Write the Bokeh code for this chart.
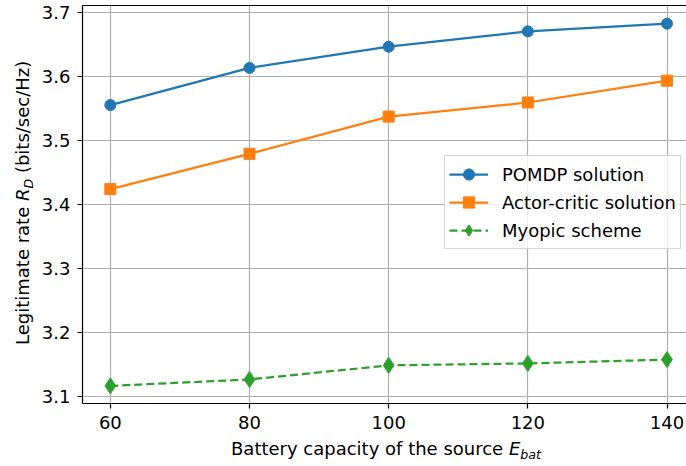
from bokeh.plotting import figure
from bokeh.models import Range1d, FixedTicker, LinearAxis, Div
from bokeh.embed import file_html
from bokeh.resources import INLINE

# ---- data -------------------------------------------------------------
battery_capacity = [60, 80, 100, 120, 140]
pomdp_rate = [3.555, 3.613, 3.646, 3.670, 3.682]
actor_critic_rate = [3.424, 3.479, 3.537, 3.559, 3.593]
myopic_rate = [3.117, 3.127, 3.149, 3.152, 3.158]

x_ticks = [60, 80, 100, 120, 140]
x_tick_labels = ["60", "80", "100", "120", "140"]
y_ticks = [3.1, 3.2, 3.3, 3.4, 3.5, 3.6, 3.7]
y_tick_labels = ["3.1", "3.2", "3.3", "3.4", "3.5", "3.6", "3.7"]

series_names = ["POMDP solution", "Actor-critic solution", "Myopic scheme"]

# ---- style ------------------------------------------------------------
FONT = "DejaVu Sans"
FS = "18px"
BLUE, ORANGE, GREEN = "#1f77b4", "#ff7f0e", "#2ca02c"
GRID = "#b0b0b0"

X0, X1 = 56, 142.8
Y0, Y1 = 3.0895, 3.7103

W, H = 686, 466
LEFT, TOP, BOTTOM = 82, 5, 63

p = figure(width=W, height=H, output_backend="svg", toolbar_location=None,
           x_range=Range1d(X0, X1), y_range=Range1d(Y0, Y1),
           min_border_left=LEFT, min_border_right=0,
           min_border_top=TOP, min_border_bottom=BOTTOM)
p.outline_line_color = None
p.background_fill_color = "white"
p.border_fill_color = "white"

# axes
for ax in (p.xaxis[0], p.yaxis[0]):
    ax.axis_line_color = "black"
    ax.axis_line_width = 1.2
    ax.major_tick_line_color = "black"
    ax.major_tick_line_width = 1.2
    ax.major_tick_out = 5
    ax.major_tick_in = 0
    ax.minor_tick_line_color = None
    ax.major_label_text_font = FONT
    ax.major_label_text_font_size = FS
    ax.major_label_text_color = "black"
    ax.major_label_standoff = 7

p.xaxis.ticker = FixedTicker(ticks=x_ticks)
p.yaxis.ticker = FixedTicker(ticks=y_ticks)
p.xaxis.major_label_overrides = dict(zip(x_ticks, x_tick_labels))
p.yaxis.major_label_overrides = dict(zip(y_ticks, y_tick_labels))

# top spine
top_axis = LinearAxis(ticker=FixedTicker(ticks=[]), axis_line_color="black",
                      axis_line_width=1.2, major_tick_out=0, major_tick_in=0,
                      major_label_standoff=0, minor_tick_line_color=None,
                      major_tick_line_color=None)
p.add_layout(top_axis, "above")

# grid
p.xgrid.ticker = FixedTicker(ticks=x_ticks)
p.ygrid.ticker = FixedTicker(ticks=y_ticks)
for g in (p.xgrid[0], p.ygrid[0]):
    g.grid_line_color = GRID
    g.grid_line_width = 1.2
    g.grid_line_alpha = 1.0

# ---- series -----------------------------------------------------------
LW = 2.25
p.line(battery_capacity, pomdp_rate, line_color=BLUE, line_width=LW,
       legend_label=series_names[0])
p.scatter(battery_capacity, pomdp_rate, marker="circle", size=11,
          fill_color=BLUE, line_color=BLUE, line_width=1,
          legend_label=series_names[0])

p.line(battery_capacity, actor_critic_rate, line_color=ORANGE, line_width=LW,
       legend_label=series_names[1])
p.scatter(battery_capacity, actor_critic_rate, marker="square", size=11,
          fill_color=ORANGE, line_color=ORANGE, line_width=1,
          legend_label=series_names[1])

p.line(battery_capacity, myopic_rate, line_color=GREEN, line_width=LW,
       line_dash="8 4", legend_label=series_names[2])
p.scatter(battery_capacity, myopic_rate, marker="diamond", size=16,
          fill_color=GREEN, line_color=GREEN, line_width=1,
          legend_label=series_names[2])

# ---- legend -----------------------------------------------------------
lg = p.legend[0]
lg.location = (362, 154)
lg.margin = 0
lg.padding = 4
lg.spacing = -1
lg.glyph_width = 39
lg.glyph_height = 28
lg.label_height = 28
lg.label_standoff = 14
lg.label_text_font = FONT
lg.label_text_font_size = FS
lg.label_text_color = "black"
lg.border_line_color = "#cccccc"
lg.border_line_width = 1.2
lg.border_line_alpha = 0.8
lg.background_fill_color = "white"
lg.background_fill_alpha = 0.8

# ---- axis titles as HTML (italic symbols with subscripts) ---------------
TEXT_CSS = (f"font-family:'{FONT}';font-size:{FS};color:black;"
            "white-space:nowrap;line-height:normal;")
SUB_CSS = "font-size:12.6px;position:relative;top:3.5px;"

x_title = Div(
    text=(f"<span style=\"{TEXT_CSS}\">Battery capacity of the source "
          f"<i>E</i><i style=\"{SUB_CSS}\">bat</i></span>"),
    styles={"position": "absolute", "left": "231px", "top": "438.3px",
            "width": "max-content", "margin": "0", "padding": "0"},
)
y_title = Div(
    text=(f"<span style=\"{TEXT_CSS}\">Legitimate rate "
          f"<i>R</i><i style=\"{SUB_CSS}\">D</i> (bits/sec/Hz)</span>"),
    styles={"position": "absolute", "left": "11.6px", "top": "345px",
            "width": "max-content", "margin": "0", "padding": "0",
            "transform": "rotate(-90deg)", "transform-origin": "0 0"},
)
p.elements = [x_title, y_title]

open("out.html", "w").write(file_html(p, INLINE))
